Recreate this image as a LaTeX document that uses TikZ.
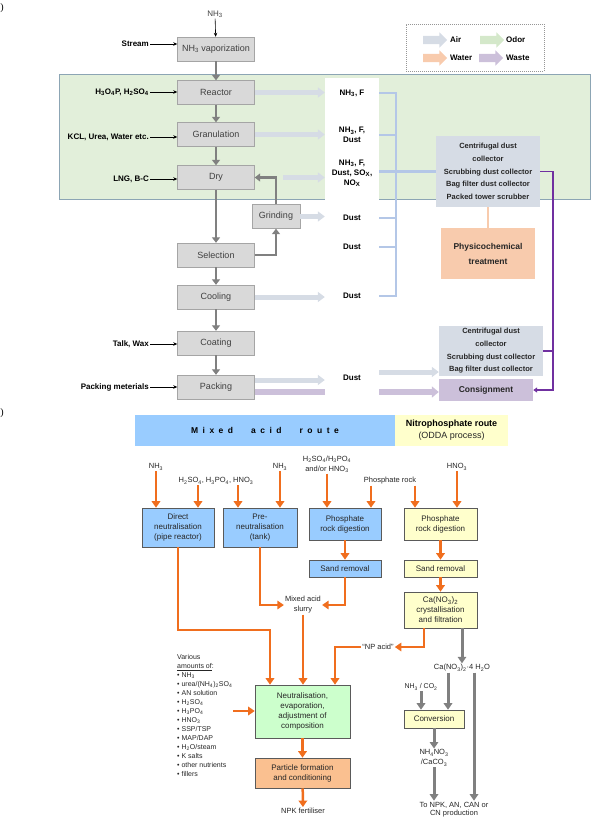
\documentclass[tikz,border=0pt]{standalone}
\usepackage{fontspec}
\setmainfont{Liberation Sans}
\newfontfamily\serifont{Liberation Serif}
\usetikzlibrary{arrows.meta,shapes.arrows}

\definecolor{stagefill}{RGB}{217,217,217}
\definecolor{stageline}{RGB}{165,165,165}
\definecolor{stagetext}{RGB}{64,64,64}
\definecolor{zonefill}{RGB}{226,239,218}
\definecolor{zoneline}{RGB}{140,165,180}
\definecolor{airc}{RGB}{214,220,229}
\definecolor{odorc}{RGB}{212,232,202}
\definecolor{waterc}{RGB}{248,203,173}
\definecolor{wastec}{RGB}{204,192,218}
\definecolor{airblue}{RGB}{180,199,231}
\definecolor{purplec}{RGB}{112,48,160}
\definecolor{flowgray}{RGB}{128,128,128}
\definecolor{darktext}{RGB}{38,38,38}
\definecolor{mixblue}{RGB}{153,204,255}
\definecolor{nitroyellow}{RGB}{255,255,204}
\definecolor{neutgreen}{RGB}{204,255,204}
\definecolor{partorange}{RGB}{250,192,144}
\definecolor{orangec}{RGB}{240,110,30}
\definecolor{unitline}{RGB}{90,90,90}
\definecolor{legline}{RGB}{150,150,150}

\newcommand{\lgap}{\hspace{4.5pt}}
\newcommand{\wgap}{\hspace{18pt}}

\tikzstyle{stage}=[rectangle,
    draw=stageline,
    fill=stagefill,
    minimum width=77pt,
    minimum height=24pt,
    inner sep=1pt,
    text=stagetext,
    font=\fontsize{9}{10}\selectfont]
\tikzstyle{feed}=[anchor=east, inner sep=1pt, font=\bfseries\fontsize{8}{9}\selectfont]
\tikzstyle{feedline}=[draw=black, line width=0.6pt, -{Stealth[length=4pt,width=3.5pt]}]
\tikzstyle{mainflow}=[draw=flowgray, line width=2.8pt, -{Triangle[width=8pt,length=5.5pt]}]
\tikzstyle{airband}=[draw=airc, line width=5pt, -{Triangle[width=10pt,length=7pt]}]
\tikzstyle{wasteband}=[draw=wastec, line width=5.5pt, -{Triangle[width=11pt,length=7pt]}]
\tikzstyle{airline}=[draw=airblue, line width=2.5pt]
\tikzstyle{wasteline}=[draw=purplec, line width=1.5pt]
\tikzstyle{waterline}=[draw=waterc, line width=1.2pt]
\tikzstyle{emis}=[align=center, inner sep=1pt, font=\bfseries\fontsize{8}{10}\selectfont]
\tikzstyle{control}=[rectangle,
    fill=airc,
    minimum width=104pt,
    align=center,
    inner sep=1pt,
    text=darktext,
    font=\bfseries\fontsize{7.5}{12.7}\selectfont]
\tikzstyle{treat}=[rectangle, fill=waterc, minimum width=94pt, minimum height=51pt,
    align=center, text=darktext, font=\bfseries\fontsize{8.5}{15}\selectfont]
\tikzstyle{dispose}=[rectangle, fill=wastec, minimum width=94pt, minimum height=22pt,
    text=darktext, font=\bfseries\fontsize{8.5}{10}\selectfont]
\tikzstyle{legarrow}=[single arrow, minimum height=24pt, inner sep=4pt,
    single arrow head extend=3.5pt, single arrow head indent=0pt]
\tikzstyle{legtext}=[anchor=west, inner sep=0pt, font=\bfseries\fontsize{8}{9}\selectfont]
\tikzstyle{tagmark}=[inner sep=0pt, font=\serifont\fontsize{10}{12}\selectfont]

\tikzstyle{head}=[rectangle, inner sep=0pt, align=center, text=black]
\tikzstyle{unit}=[rectangle,
    draw=unitline,
    line width=0.6pt,
    align=center,
    inner sep=1pt,
    text=darktext,
    font=\fontsize{8}{10}\selectfont]
\tikzstyle{chem}=[align=center, inner sep=1pt, text=darktext, font=\fontsize{7.5}{10}\selectfont]
\tikzstyle{list}=[align=left, inner sep=0pt, text=darktext, font=\fontsize{7}{9}\selectfont]
\tikzstyle{oflow}=[draw=orangec, line width=2.5pt, -{Triangle[width=8.5pt,length=6.5pt]}]
\tikzstyle{gflow}=[draw=flowgray, line width=3pt, -{Triangle[width=8.5pt,length=6.5pt]}]

\begin{document}
\begin{tikzpicture}[x=1pt,y=-1pt]
    \useasboundingbox (0,0) rectangle (599,819);

    % (a)
    \draw[draw=zoneline, fill=zonefill, line width=0.8pt] (59,74) rectangle (590,199);
    \node[tagmark] (marka) at (2,8) {)};

    \node[draw=legline, dash pattern=on 1pt off 1pt, minimum width=138pt, minimum height=47pt] (legend) at (475,47.5) {};
    \node[legarrow, fill=airc] (kair) at (433,40) {};
    \node[legtext] (tair) at (450,40) {Air};
    \node[legarrow, fill=odorc] (kodor) at (490,40) {};
    \node[legtext] (todor) at (506,40) {Odor};
    \node[legarrow, fill=waterc] (kwater) at (433,58) {};
    \node[legtext] (twater) at (450,58) {Water};
    \node[legarrow, fill=wastec] (kwaste) at (489,58) {};
    \node[legtext] (twaste) at (506,58) {Waste};

    \node[stage] (vap) at (216,49) {NH\textsubscript{3} vaporization};
    \node[stage] (reactor) at (216,92.5) {Reactor};
    \node[stage] (gran) at (216,134.5) {Granulation};
    \node[stage] (dry) at (216,177.5) {Dry};
    \node[stage, minimum width=48pt] (grind) at (276,216.5) {Grinding};
    \node[stage] (select) at (216,255) {Selection};
    \node[stage] (cool) at (216,297) {Cooling};
    \node[stage] (coat) at (216,343) {Coating};
    \node[stage] (pack) at (216,387) {Packing};

    \node[inner sep=1pt, text=stagetext, font=\fontsize{8}{9}\selectfont] (nh3top) at (215,14) {NH\textsubscript{3}};
    \node[feed] (stream) at (150,44) {Stream};
    \node[feed] (acid) at (150,92) {H\textsubscript{3}O\textsubscript{4}P, H\textsubscript{2}SO\textsubscript{4}};
    \node[feed] (addit) at (150,137) {KCL, Urea, Water etc.};
    \node[feed] (fuel) at (150,179) {LNG, B-C};
    \node[feed] (talc) at (150,344) {Talk, Wax};
    \node[feed] (packmat) at (150,387) {Packing meterials};

    \draw[feedline] (nh3top) -- (vap);
    \draw[feedline] (stream) -- (stream -| vap.west);
    \draw[feedline] (acid) -- (acid -| reactor.west);
    \draw[feedline] (addit) -- (addit -| gran.west);
    \draw[feedline] (fuel) -- (fuel -| dry.west);
    \draw[feedline] (talc) -- (talc -| coat.west);
    \draw[feedline] (packmat) -- (packmat -| pack.west);

    \draw[mainflow] (vap) -- (reactor);
    \draw[mainflow] (reactor) -- (gran);
    \draw[mainflow] (gran) -- (dry);
    \draw[mainflow] (dry) -- (select);
    \draw[mainflow] (select) -- (cool);
    \draw[mainflow] (cool) -- (coat);
    \draw[mainflow] (coat) -- (pack);
    \draw[mainflow] (select.east) -| (grind.south);
    \draw[mainflow] (grind.north) |- (dry.east);

    \node[control, minimum height=71pt] (coll1) at (488,171.5) {Centrifugal dust\\collector\\Scrubbing dust collector\\Bag filter dust collector\\Packed tower scrubber};
    \node[control, minimum height=50pt] (coll2) at (491,351) {Centrifugal dust\\collector\\Scrubbing dust collector\\Bag filter dust collector};
    \node[treat] (physico) at (488,253.5) {Physicochemical\\treatment};
    \node[dispose] (consign) at (486,390) {Consignment};

    \coordinate (pa) at ([yshift=7pt]pack.east);
    \coordinate (pw) at ([yshift=-5pt]pack.east);
    \draw[wasteband] (pw) -- (pw -| consign.west);

    \node[fill=white, minimum width=54pt, minimum height=322pt, inner sep=0pt] (col) at (352,239) {};
    \node[emis] (e1) at (352,93) {NH\textsubscript{3}, F};
    \node[emis] (e2) at (352,135) {NH\textsubscript{3}, F,\\Dust};
    \node[emis] (e3) at (352,173) {NH\textsubscript{3}, F,\\Dust, SO\textsubscript{X},\\NO\textsubscript{X}};
    \node[emis] (e4) at (352,218) {Dust};
    \node[emis] (e5) at (352,247) {Dust};
    \node[emis] (e6) at (352,296) {Dust};
    \node[emis] (e7) at (352,378) {Dust};

    \coordinate (dryturn) at (grind.north |- dry.east);
    \draw[airband] (reactor.east) -- (reactor.east -| col.west);
    \draw[airband] (gran.east) -- (gran.east -| col.west);
    \draw[airband] ([xshift=7pt]dryturn) -- (dryturn -| col.west);
    \draw[airband] (grind.east) -- (grind.east -| col.west);
    \draw[airband] (cool.east) -- (cool.east -| col.west);
    \draw[airband] (pa) -- (pa -| col.west);

    \coordinate (bus) at (396,0);
    \coordinate (dout) at (0,372);
    \draw[airline] (col.east |- e1) -| (bus |- e6) -- (col.east |- e6);
    \draw[airline] (col.east |- e2) -- (bus |- e2);
    \draw[airline] (col.east |- coll1.west) -- (coll1.west);
    \draw[airline] (col.east |- e4) -- (bus |- e4);
    \draw[airline] (col.east |- e5) -- (bus |- e5);
    \draw[airband] (col.east |- dout) -- (dout -| coll2.west);

    \draw[waterline] (coll1) -- (physico);
    \coordinate (pv) at (553,0);
    \draw[wasteline, -{Triangle[width=5pt,length=4pt]}] (coll1.east) -- (coll1.east -| pv) |- (consign.east);
    \draw[wasteline] (coll2.east) -- (coll2.east -| pv);

    % (b)
    \node[tagmark] (markb) at (2,413) {)};
    \node[head, fill=mixblue, minimum width=260pt, minimum height=31pt, font=\bfseries\fontsize{8.5}{10}\selectfont] (mixhead) at (265,430.5)
        {M\lgap i\lgap x\lgap e\lgap d\wgap a\lgap c\lgap i\lgap d\wgap r\lgap o\lgap u\lgap t\lgap e};
    \node[head, fill=nitroyellow, minimum width=113pt, minimum height=31pt, font=\fontsize{9}{12}\selectfont] (nitrohead) at (451.5,430.5)
        {\textbf{Nitrophosphate route}\\{\color{darktext}(ODDA process)}};

    \node[chem] (nh3d) at (156,467) {NH\textsubscript{3}};
    \node[chem] (acids) at (216,481) {H\textsubscript{2}SO\textsubscript{4}, H\textsubscript{3}PO\textsubscript{4}, HNO\textsubscript{3}};
    \node[chem] (nh3p) at (280,467) {NH\textsubscript{3}};
    \node[chem] (acidmix) at (327,464) {H\textsubscript{2}SO\textsubscript{4}/H\textsubscript{3}PO\textsubscript{4}\\and/or HNO\textsubscript{3}};
    \node[chem] (rock) at (390,481) {Phosphate rock};
    \node[chem] (hno3) at (457,467) {HNO\textsubscript{3}};

    \node[unit, fill=mixblue, minimum width=72pt, minimum height=39pt] (direct) at (178,527.5) {Direct\\neutralisation\\(pipe reactor)};
    \node[unit, fill=mixblue, minimum width=74pt, minimum height=39pt] (pre) at (260,527.5) {Pre-\\neutralisation\\(tank)};
    \node[unit, fill=mixblue, minimum width=72pt, minimum height=32pt] (digb) at (345,524) {Phosphate\\rock digestion};
    \node[unit, fill=nitroyellow, minimum width=73pt, minimum height=32pt] (digy) at (440.5,524) {Phosphate\\rock digestion};
    \node[unit, fill=mixblue, minimum width=72pt, minimum height=17pt] (sandb) at (345,568.5) {Sand removal};
    \node[unit, fill=nitroyellow, minimum width=73pt, minimum height=17pt] (sandy) at (440.5,568.5) {Sand removal};
    \node[unit, fill=nitroyellow, minimum width=73pt, minimum height=36pt] (crys) at (440.5,610) {Ca(NO\textsubscript{3})\textsubscript{2}\\crystallisation\\and filtration};
    \node[unit, fill=neutgreen, minimum width=95pt, minimum height=53pt] (neut) at (302.5,711.5) {Neutralisation,\\evaporation,\\adjustment of\\composition};
    \node[unit, fill=partorange, minimum width=95pt, minimum height=30pt] (part) at (302.5,773) {Particle formation\\and conditioning};
    \node[unit, fill=nitroyellow, minimum width=60pt, minimum height=18pt] (conv) at (434,719) {Conversion};

    \node[chem] (slurry) at (303,605) {Mixed acid\\slurry};
    \node[chem] (npacid) at (378,647) {``NP acid''};
    \node[chem] (npk) at (303,811) {NPK fertiliser};
    \node[chem] (hydrate) at (462,668) {Ca(NO\textsubscript{3})\textsubscript{2}·4 H\textsubscript{2}O};
    \node[chem, font=\fontsize{7}{9}\selectfont] (nh3co2) at (421,687) {NH\textsubscript{3} / CO\textsubscript{2}};
    \node[chem] (nitrate) at (434,758) {NH\textsubscript{4}NO\textsubscript{3}\\/CaCO\textsubscript{3}};
    \node[chem, font=\fontsize{7.5}{8.5}\selectfont] (toprod) at (454,809.5) {To NPK, AN, CAN or\\CN production};
    \node[list, anchor=north west] (various) at (177,654) {Various\\\underline{amounts of}:\\• NH\textsubscript{3}\\• urea/(NH\textsubscript{4})\textsubscript{2}SO\textsubscript{4}\\• AN solution\\• H\textsubscript{2}SO\textsubscript{4}\\• H\textsubscript{3}PO\textsubscript{4}\\• HNO\textsubscript{3}\\• SSP/TSP\\• MAP/DAP\\• H\textsubscript{2}O/steam\\• K salts\\• other nutrients\\• fillers};

    \coordinate (a1) at ([xshift=-18pt]acids.south);
    \coordinate (a2) at ([xshift=22pt]acids.south);
    \coordinate (r1) at ([xshift=-19pt]rock.south);
    \coordinate (r2) at ([xshift=25pt]rock.south);
    \draw[oflow] (nh3d) -- (nh3d |- direct.north);
    \draw[oflow] (a1) -- (a1 |- direct.north);
    \draw[oflow] (a2) -- (a2 |- pre.north);
    \draw[oflow] (nh3p) -- (nh3p |- pre.north);
    \draw[oflow] (acidmix) -- (acidmix |- digb.north);
    \draw[oflow] (r1) -- (r1 |- digb.north);
    \draw[oflow] (r2) -- (r2 |- digy.north);
    \draw[oflow] (hno3) -- (hno3 |- digy.north);

    \draw[oflow] (digb) -- (sandb);
    \draw[oflow] (digy) -- (sandy);
    \draw[oflow] (sandy) -- (crys);
    \draw[oflow] (sandb.south) |- (slurry.east);
    \draw[oflow] (pre.south) |- (slurry.west);
    \coordinate (dturn) at (270,630);
    \draw[oflow] (direct.south) |- (dturn) -- (dturn |- neut.north);
    \draw[oflow] (slurry) -- (slurry |- neut.north);
    \coordinate (npturn) at (424,0);
    \coordinate (npdrop) at (335,0);
    \draw[oflow] (crys.south -| npturn) |- (npacid.east);
    \draw[oflow] (npacid.west) -| (npdrop |- neut.north);
    \coordinate (vin) at (233,711);
    \draw[oflow] (vin) -- (vin -| neut.west);
    \draw[oflow] (neut) -- (part);
    \draw[oflow] (part) -- (npk);

    \coordinate (hconv) at (448,0);
    \coordinate (hlong) at (474,0);
    \draw[gflow] (crys.south -| hydrate) -- (hydrate);
    \draw[gflow] (hconv |- hydrate.south) -- (hconv |- conv.north);
    \draw[gflow] (nh3co2) -- (nh3co2 |- conv.north);
    \draw[gflow] (conv) -- (nitrate);
    \draw[gflow] (nitrate) -- (nitrate |- toprod.north);
    \draw[gflow] (hlong |- hydrate.south) -- (hlong |- toprod.north);
\end{tikzpicture}
\end{document}
